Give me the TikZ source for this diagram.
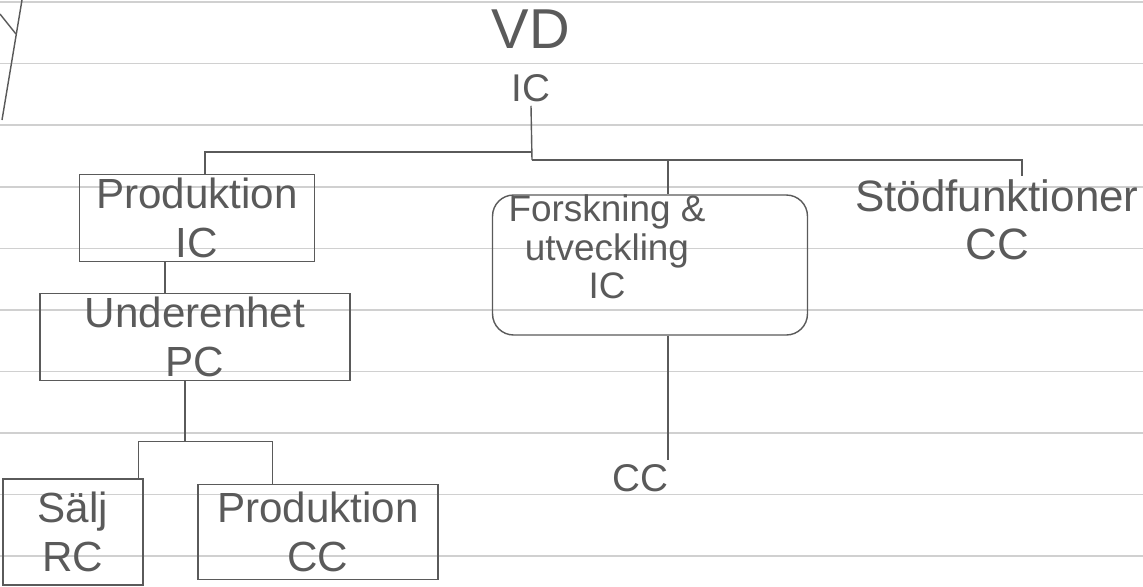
\documentclass[tikz,border=0pt]{standalone}
\usepackage{fontspec}
\setmainfont{Liberation Sans}
\usetikzlibrary{calc}
\definecolor{ink}{RGB}{90,90,90}
\definecolor{ruling}{RGB}{208,208,208}
\tikzset{
  lbl/.style={text=ink, align=center, inner sep=2pt},
  box/.style={draw=ink, line width=0.8pt, inner sep=0pt},
  wire/.style={draw=ink, line width=0.8pt},
  big/.style={font=\fontsize{24}{28}\selectfont}
}
\begin{document}
\begin{tikzpicture}[x=0.02cm,y=-0.02cm]
\useasboundingbox (0,0) rectangle (1143,586);
\fill[white] (0,0) rectangle (1143,586);
% ruled paper
\foreach \yy in {2,63.5,125,187,248.5,310,371.5,433,494.5,556}
  \draw[ruling,line width=0.6pt] (0,\yy) -- (1143,\yy);
% margin strokes
\draw[wire] (22,0) -- (2,120);
\draw[wire] (0,14) -- (16,34);

% nodes
\node[lbl, font=\fontsize{32}{30}\selectfont] (vd) at (531,56) {VD\\{\fontsize{22}{22}\selectfont IC}};
\node[box, minimum width=4.7cm, minimum height=1.74cm, lbl, big] (prod) at (197,218) {Produktion\\IC};
\node[box, minimum width=6.2cm, minimum height=1.7cm, lbl, big] (und) at (195,337) {Underenhet\\PC};
\node[box, minimum width=2.8cm, minimum height=2.12cm, lbl, big] (sal) at (73,532) {Sälj\\RC};
\node[box, minimum width=4.8cm, minimum height=1.9cm, lbl, big] (prodcc) at (318,532) {Produktion\\CC};
\node[box, rounded corners=12pt, minimum width=6.3cm, minimum height=2.8cm] (fou) at (650,265) {};
\node[lbl, font=\fontsize{21}{22}\selectfont] (fout) at ($(fou.center)+(-43,-18)$) {Forskning \&\\utveckling\\IC};
\node[lbl, font=\fontsize{22}{26}\selectfont] (cc) at (640,478) {CC};
\node[lbl, font=\fontsize{25}{27}\selectfont] (stod) at (997,220) {Stödfunktioner\\CC};

% junctions
\coordinate (j1) at (532,152);
\coordinate (j2) at (532,160);
\coordinate (p2) at ($(prod.north)+(8,0)$);
\coordinate (f2) at ($(fou.north)+(18,0)$);
\coordinate (st1) at ($(stod.north)+(25,0)$);
\coordinate (p1) at ($(prod.south)+(-32,0)$);
\coordinate (u1) at ($(und.south)+(-10,0)$);
\coordinate (j3) at ($(u1)+(0,60)$);
\coordinate (s1) at ($(sal.north east)+(-5,0)$);
\coordinate (q1) at ($(prodcc.north west)+(75,0)$);
\coordinate (f1) at ($(fou.south)+(18,0)$);

% connectors
\draw[wire] (vd.south) -- (j2);
\draw[wire] (j1) -| (p2);
\draw[wire] (j2) -| (f2);
\draw[wire] (j2) -| (st1);
\draw[wire] (p1) -- (p1 |- und.north);
\draw[wire] (u1) -- (j3);
\draw[wire] (s1) |- (j3) -| (q1);
\draw[wire] (f1) -- (f1 |- cc.north);
\end{tikzpicture}
\end{document}
